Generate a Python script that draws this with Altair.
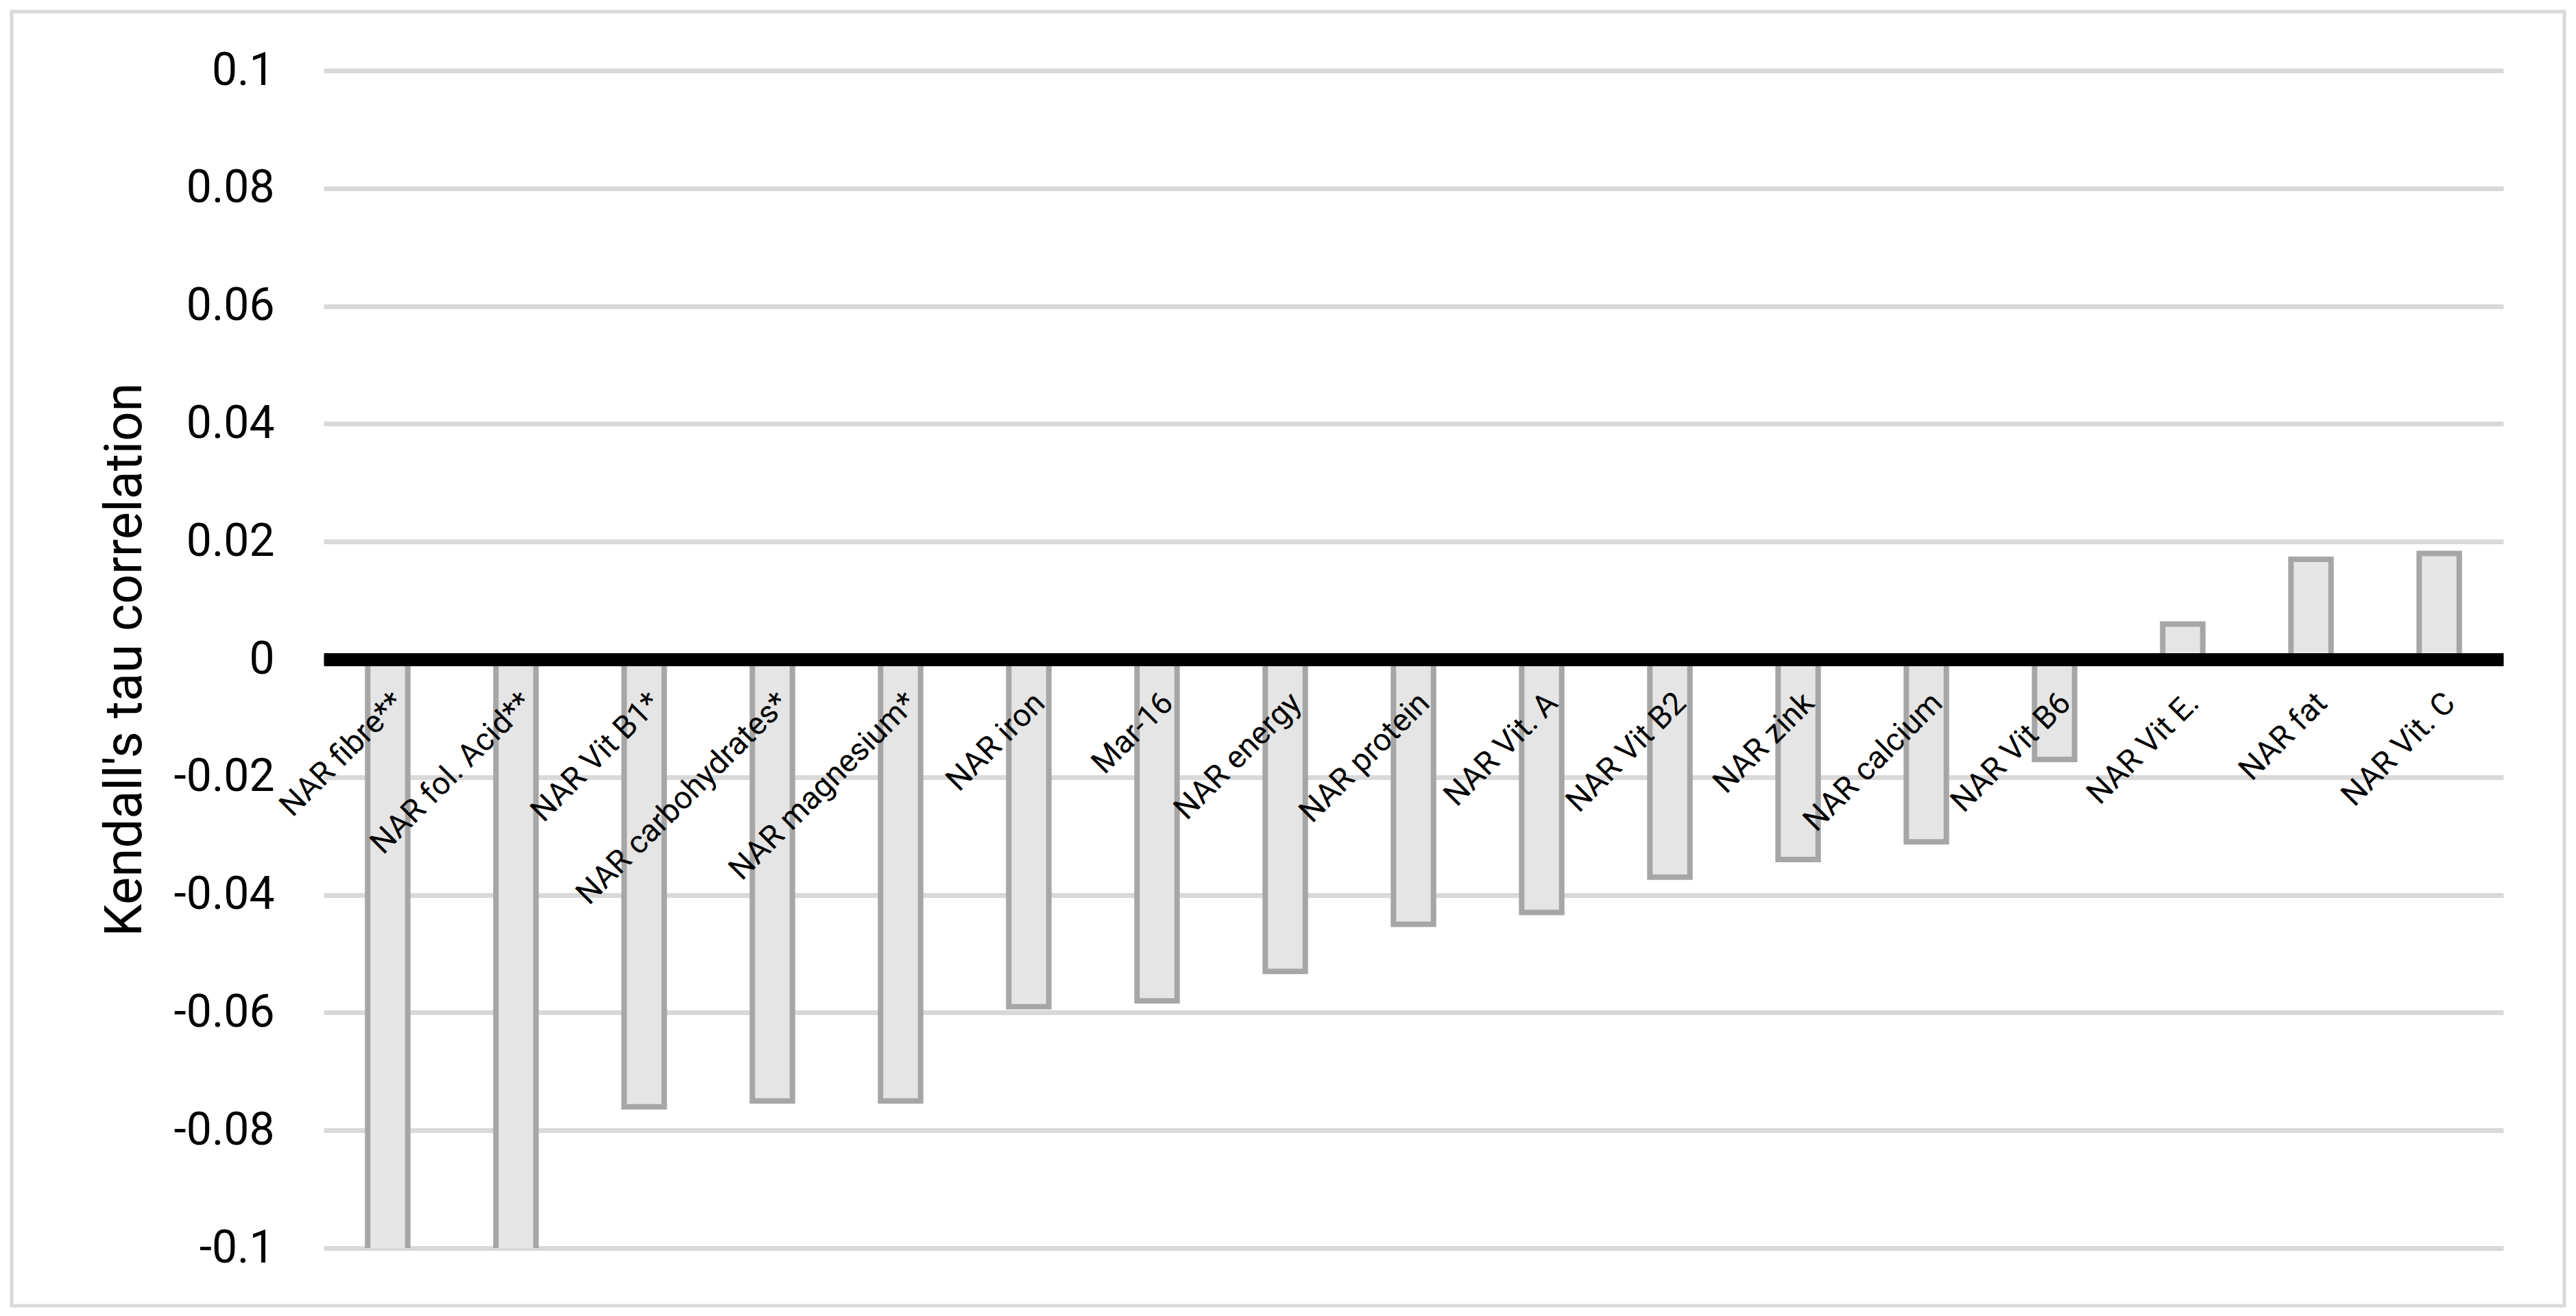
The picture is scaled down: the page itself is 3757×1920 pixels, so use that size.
import altair as alt
import pandas as pd

# ---- data ----
categories = [
    "NAR fibre**", "NAR fol. Acid**", "NAR Vit B1*", "NAR carbohydrates*",
    "NAR magnesium*", "NAR iron", "Mar-16", "NAR energy", "NAR protein",
    "NAR Vit. A", "NAR Vit B2", "NAR zink", "NAR calcium", "NAR Vit B6",
    "NAR Vit E.", "NAR fat", "NAR Vit. C",
]
# first two bars run past the -0.1 axis limit (truncated in the original)
tau_values = [
    -0.104, -0.104, -0.076, -0.075, -0.075, -0.059, -0.058, -0.053, -0.045,
    -0.043, -0.037, -0.034, -0.031, -0.017, 0.006, 0.017, 0.018,
]
y_ticks = [-0.1, -0.08, -0.06, -0.04, -0.02, 0, 0.02, 0.04, 0.06, 0.08, 0.1]
y_title = "Kendall's tau correlation"

df = pd.DataFrame({"item": categories, "tau": tau_values})

W, H = 3179, 1718
FONT = "Roboto"

x_enc = alt.X(
    "item:N",
    sort=categories,
    title=None,
    scale=alt.Scale(paddingInner=0.6875, paddingOuter=0.34375),
    axis=alt.Axis(
        orient="bottom",
        offset=-H / 2,
        domain=True,
        domainColor="black",
        domainWidth=19,
        ticks=False,
        tickSize=0,
        grid=False,
        labelAngle=-45,
        labelAlign="right",
        labelBaseline="alphabetic",
        labelPadding=66,
        labelOffset=26,
        labelFont=FONT,
        labelFontSize=46,
        labelColor="black",
        labelOverlap=False,
        labelLimit=0,
        zindex=1,
    ),
)

y_enc = alt.Y(
    "tau:Q",
    scale=alt.Scale(domain=[-0.1, 0.1], nice=False, zero=False),
    axis=alt.Axis(
        values=y_ticks,
        title=y_title,
        titleFont=FONT,
        titleFontSize=76,
        titleFontWeight="normal",
        titleColor="black",
        titleAngle=270,
        titleX=-290,
        titleBaseline="middle",
        titleAlign="center",
        labelFont=FONT,
        labelFontSize=66,
        labelColor="black",
        labelPadding=72,
        labelExpr="datum.value == 0 ? '0' : (datum.value < 0 ? '-' : '') + format(abs(datum.value), '.2~f')",
        ticks=False,
        tickSize=0,
        domain=False,
        grid=True,
        gridColor="#d9d9d9",
        gridWidth=7,
    ),
)

bars = (
    alt.Chart(df)
    .mark_bar(fill="#e5e5e5", stroke="#a6a6a6", strokeWidth=8, clip=True)
    .encode(x=x_enc, y=y_enc, y2=alt.datum(0))
)

frame = (
    alt.Chart(alt.Data(values=[{"f": 1}]))
    .mark_rect(fill="transparent", stroke="#d9d9d9", strokeWidth=5)
    .encode(
        x=alt.value(-455),
        x2=alt.value(W + 89),
        y=alt.value(-86),
        y2=alt.value(H + 84),
    )
)

chart = (
    alt.layer(bars, frame)
    .properties(
        width=W,
        height=H,
        padding={"left": 464, "top": 95, "right": 98, "bottom": 91},
        autosize=alt.AutoSizeParams(type="none"),
        background="white",
    )
    .configure_view(stroke=None)
)

chart.save("out.html", embed_options={"renderer": "svg", "actions": False})
